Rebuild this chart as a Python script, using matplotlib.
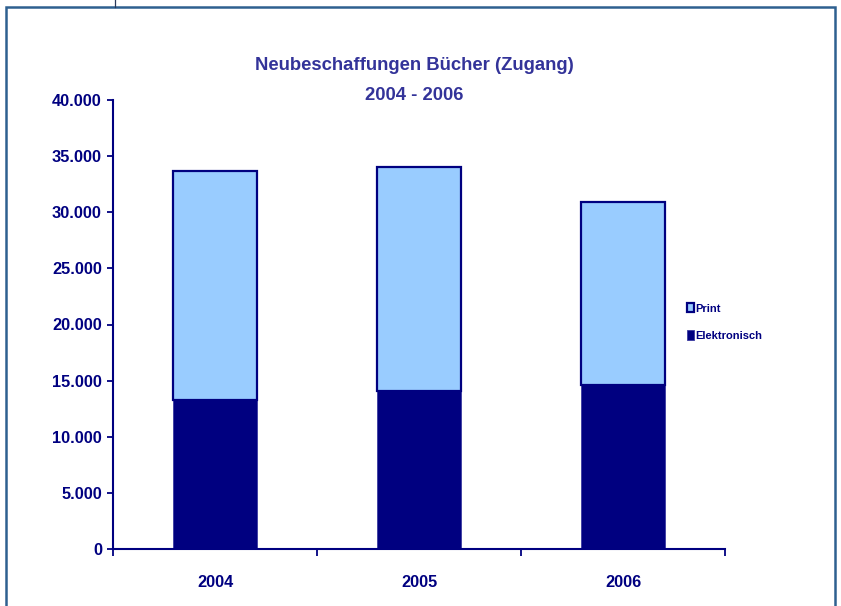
import numpy as np
import matplotlib
matplotlib.use('Agg')
import matplotlib.pyplot as plt
from matplotlib.patches import Rectangle
from matplotlib.lines import Line2D
from matplotlib.ticker import FuncFormatter

jahre = ['2004', '2005', '2006']
elektronisch = [13300, 14100, 14600]
gesamt = [33700, 34000, 30900]
printbuch = [g - e for g, e in zip(gesamt, elektronisch)]
yticks = [0, 5000, 10000, 15000, 20000, 25000, 30000, 35000, 40000]

navy = '#000080'
hellblau = '#99CCFF'
titelfarbe = '#333399'

plt.rcParams['font.family'] = ['Liberation Sans', 'DejaVu Sans']
plt.rcParams['font.weight'] = 'bold'

fig = plt.figure(figsize=(8.41, 6.06), dpi=100)
ax = fig.add_axes([113/841, 1-549/606, 612/841, 449/606])

x = np.arange(len(jahre))
ax.bar(x, elektronisch, width=0.41, color=navy, edgecolor='#3a3aa0', linewidth=0.6, label='Elektronisch')
ax.bar(x, printbuch, width=0.41, bottom=elektronisch, color=hellblau, edgecolor=navy, linewidth=1.6, label='Print')

ax.set_xlim(-0.5, 2.5)
ax.set_ylim(0, 40000)
ax.set_yticks(yticks)
ax.yaxis.set_major_formatter(FuncFormatter(lambda v, p: f'{int(v):,}'.replace(',', '.')))
ax.tick_params(axis='y', colors=navy, labelcolor=navy, labelsize=11.8, length=4, width=1.3, pad=4)

ax.set_xticks([-0.5, 0.5, 1.5, 2.5])
ax.set_xticklabels(['', '', '', ''])
ax.set_xticks(x, minor=True)
ax.set_xticklabels(jahre, minor=True)
ax.tick_params(axis='x', which='major', colors=navy, length=5, width=1.3, direction='out')
ax.tick_params(axis='x', which='minor', length=0, labelcolor=navy, labelsize=11.8, pad=19)

for s in ['top', 'right']:
    ax.spines[s].set_visible(False)
for s in ['left', 'bottom']:
    ax.spines[s].set_color(navy)
    ax.spines[s].set_linewidth(1.5)

fig.text(414/841, 1-65/606, 'Neubeschaffungen Bücher (Zugang)', ha='center', va='center',
         color=titelfarbe, fontsize=13.3, fontweight='bold')
fig.text(414/841, 1-96/606, '2004 - 2006', ha='center', va='center',
         color=titelfarbe, fontsize=13.3, fontweight='bold')

h, l = ax.get_legend_handles_labels()
leg = fig.legend(h[::-1], l[::-1], loc='center left', bbox_to_anchor=(677/841, 1-322/606),
                 frameon=False, fontsize=8, handlelength=0.6, handleheight=0.9,
                 handletextpad=0.15, labelspacing=1.5, labelcolor=navy)

# Rahmen
fig.patches.append(Rectangle((6/841, -0.1), 829/841, 1.1 - 7/606, transform=fig.transFigure,
                             fill=False, edgecolor='#2E6090', linewidth=1.8))
fig.lines.append(Line2D([115/841, 115/841], [1-7/606, 1], transform=fig.transFigure,
                        color='#2a3a5a', linewidth=0.9))

fig.savefig('out.png', dpi=100)
